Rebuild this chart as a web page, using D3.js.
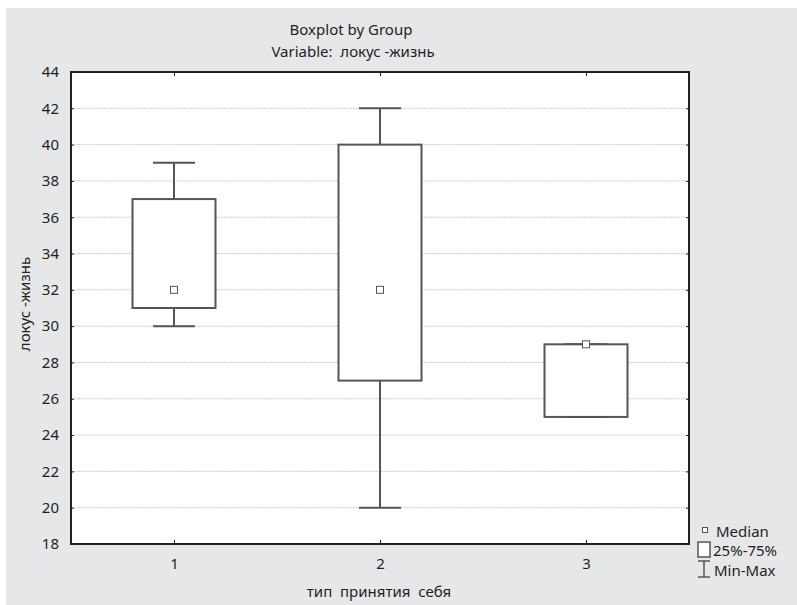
<!DOCTYPE html>
<html><head><meta charset="utf-8">
<script src="https://cdn.jsdelivr.net/npm/d3@7"></script>
<style>body{margin:0;background:#fff}text{font-family:"Noto Sans","Open Sans",sans-serif;fill:#231f20}</style>
</head><body><svg id="c" width="797" height="605"></svg>
<script>
const groups = ["1","2","3"];
const mins    = [30, 20, 25];
const q1s     = [31, 27, 25];
const medians = [32, 32, 29];
const q3s     = [37, 40, 29];
const maxs    = [39, 42, 29];
const yTicks = [18,20,22,24,26,28,30,32,34,36,38,40,42,44];

const svg = d3.select("#c");
svg.append("rect").attr("x",6).attr("y",8).attr("width",791).attr("height",597).attr("fill","#e6e7e8");

const L=71,R=689,T=72,B=544;
const x = d3.scaleLinear().domain([0.5,3.5]).range([L,R]);
const y = d3.scaleLinear().domain([18,44]).range([B,T]);

svg.append("rect").attr("x",L).attr("y",T).attr("width",R-L).attr("height",B-T).attr("fill","#fff");

// grid
svg.append("g").selectAll("line").data(yTicks.slice(1,-1)).join("line")
  .attr("x1",L).attr("x2",R).attr("y1",d=>y(d)).attr("y2",d=>y(d))
  .attr("stroke","#b5b5b5").attr("stroke-width",0.8).attr("stroke-dasharray","1.5,1");

// axes
const ax = svg.append("g");
const yl = d3.axisLeft(y).tickValues(yTicks).tickSize(-3).tickPadding(12);
ax.append("g").attr("transform",`translate(${L},0)`).call(yl).call(g=>{g.select(".domain").remove();g.selectAll("text").attr("font-size",15).style("font-family","Noto Sans").attr("fill","#231f20");g.selectAll("line").attr("stroke","#231f20")});
const yr = d3.axisRight(y).tickValues(yTicks).tickSize(-3).tickFormat("");
ax.append("g").attr("transform",`translate(${R},0)`).call(yr).call(g=>{g.select(".domain").remove();g.selectAll("line").attr("stroke","#231f20")});
const xb = d3.axisBottom(x).tickValues([1,2,3]).tickSize(-4).tickPadding(14).tickFormat(d=>groups[d-1]);
ax.append("g").attr("transform",`translate(0,${B})`).call(xb).call(g=>{g.select(".domain").remove();g.selectAll("text").attr("font-size",15).style("font-family","Noto Sans").attr("fill","#231f20");g.selectAll("line").attr("stroke","#231f20")});
const xt = d3.axisTop(x).tickValues([1,2,3]).tickSize(-4).tickFormat("");
ax.append("g").attr("transform",`translate(0,${T})`).call(xt).call(g=>{g.select(".domain").remove();g.selectAll("line").attr("stroke","#231f20")});

svg.append("rect").attr("x",L).attr("y",T).attr("width",R-L).attr("height",B-T).attr("fill","none").attr("stroke","#231f20").attr("stroke-width",2);

// boxes
const col="#555";
const data = groups.map((g,i)=>({c:i+1,min:mins[i],q1:q1s[i],med:medians[i],q3:q3s[i],max:maxs[i]}));
const bw = 83, cw = 42;
const bg = svg.append("g").selectAll("g").data(data).join("g");
bg.append("line").attr("x1",d=>x(d.c)).attr("x2",d=>x(d.c)).attr("y1",d=>y(d.max)).attr("y2",d=>y(d.q3)).attr("stroke",col).attr("stroke-width",2);
bg.append("line").attr("x1",d=>x(d.c)).attr("x2",d=>x(d.c)).attr("y1",d=>y(d.q1)).attr("y2",d=>y(d.min)).attr("stroke",col).attr("stroke-width",2);
bg.append("line").attr("x1",d=>x(d.c)-cw/2).attr("x2",d=>x(d.c)+cw/2).attr("y1",d=>y(d.max)).attr("y2",d=>y(d.max)).attr("stroke",col).attr("stroke-width",2);
bg.append("line").attr("x1",d=>x(d.c)-cw/2).attr("x2",d=>x(d.c)+cw/2).attr("y1",d=>y(d.min)).attr("y2",d=>y(d.min)).attr("stroke",col).attr("stroke-width",2);
bg.append("rect").attr("x",d=>x(d.c)-bw/2).attr("width",bw).attr("y",d=>y(d.q3)).attr("height",d=>y(d.q1)-y(d.q3)).attr("fill","#fff").attr("stroke",col).attr("stroke-width",2);
bg.append("rect").attr("x",d=>x(d.c)-3.5).attr("y",d=>y(d.med)-3.5).attr("width",7).attr("height",7).attr("fill","#fff").attr("stroke",col).attr("stroke-width",1);

// titles
svg.append("text").attr("x",351).attr("y",35).attr("text-anchor","middle").attr("font-size",15).text("Boxplot by Group");
svg.append("text").attr("x",353).attr("y",57).attr("text-anchor","middle").attr("font-size",15).attr("xml:space","preserve").text("Variable:  локус -жизнь");
svg.append("text").attr("x",379).attr("y",597).attr("text-anchor","middle").attr("font-size",15).attr("xml:space","preserve").text("тип  принятия  себя");
svg.append("text").attr("transform",`translate(30,${(T+B)/2 - 4}) rotate(-90)`).attr("text-anchor","middle").attr("font-size",15).attr("xml:space","preserve").text("локус -жизнь");

// legend
const lg = svg.append("g");
lg.append("rect").attr("x",702.5).attr("y",527.5).attr("width",5).attr("height",5).attr("fill","#fff").attr("stroke",col);
lg.append("text").attr("x",716).attr("y",537).attr("font-size",15).text("Median");
lg.append("rect").attr("x",698).attr("y",542).attr("width",12).attr("height",15).attr("fill","#fff").attr("stroke",col).attr("stroke-width",1.5);
lg.append("text").attr("x",713).attr("y",556).attr("font-size",15).text("25%-75%");
lg.append("line").attr("x1",704).attr("x2",704).attr("y1",561).attr("y2",577).attr("stroke",col).attr("stroke-width",1.5);
lg.append("line").attr("x1",698).attr("x2",710).attr("y1",561).attr("y2",561).attr("stroke",col).attr("stroke-width",1.5);
lg.append("line").attr("x1",698).attr("x2",710).attr("y1",577).attr("y2",577).attr("stroke",col).attr("stroke-width",1.5);
lg.append("text").attr("x",714).attr("y",576).attr("font-size",15).text("Min-Max");
</script></body></html>
